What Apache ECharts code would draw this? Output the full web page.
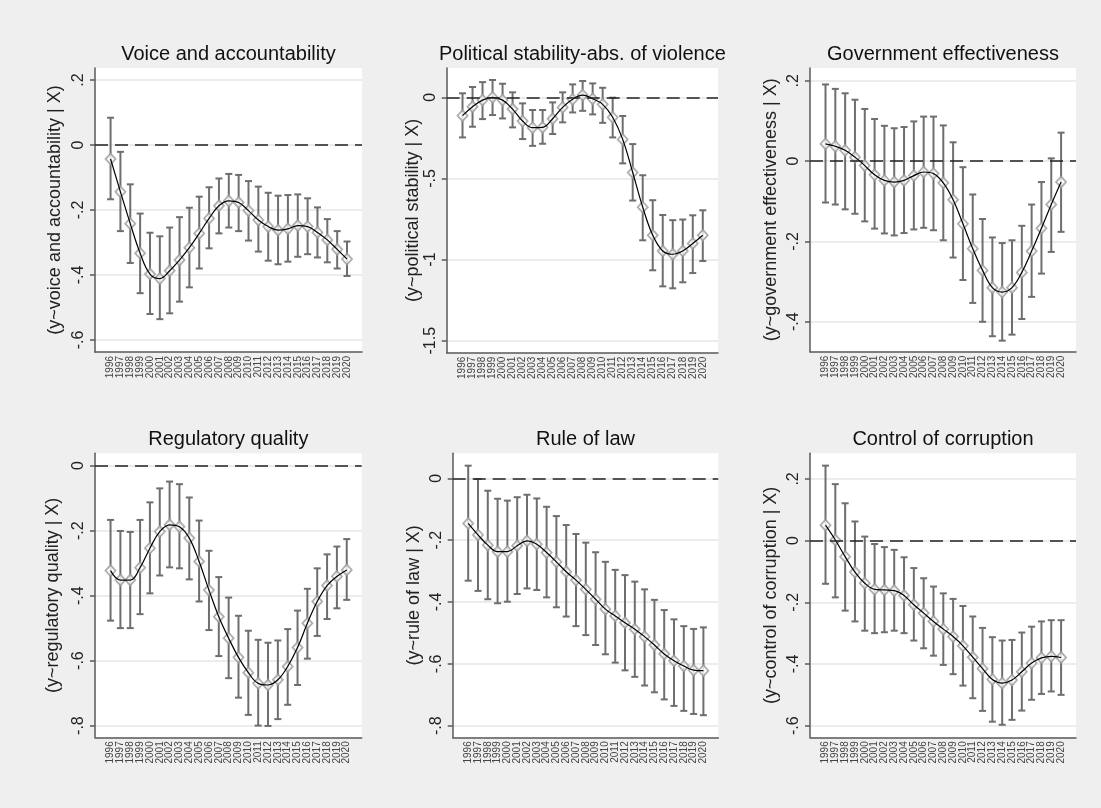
<!DOCTYPE html>
<html><head><meta charset="utf-8">
<script src="https://cdn.jsdelivr.net/npm/echarts@6/dist/echarts.min.js"></script>
<style>html,body{margin:0;padding:0;background:#efefef}#c{width:1101px;height:808px}</style>
</head><body><div id="c"></div>
<script>
// ---------- data ----------
const years = [1996,1997,1998,1999,2000,2001,2002,2003,2004,2005,2006,2007,2008,2009,2010,2011,2012,2013,2014,2015,2016,2017,2018,2019,2020];

const titles = ['Voice and accountability','Political stability-abs. of violence','Government effectiveness','Regulatory quality','Rule of law','Control of corruption'];
const yNames = ['(y~voice and accountability | X)','(y~political stability | X)','(y~government effectiveness | X)','(y~regulatory quality | X)','(y~rule of law | X)','(y~control of corruption | X)'];

const voiceEst = [-0.043,-0.144,-0.242,-0.333,-0.397,-0.411,-0.387,-0.354,-0.316,-0.272,-0.226,-0.187,-0.172,-0.177,-0.202,-0.231,-0.251,-0.262,-0.258,-0.248,-0.251,-0.269,-0.292,-0.321,-0.351];
const voiceHi  = [0.084,-0.021,-0.121,-0.211,-0.270,-0.281,-0.254,-0.222,-0.193,-0.159,-0.130,-0.103,-0.089,-0.092,-0.111,-0.128,-0.147,-0.156,-0.154,-0.152,-0.164,-0.192,-0.228,-0.265,-0.297];
const voiceLo  = [-0.167,-0.265,-0.363,-0.456,-0.520,-0.536,-0.518,-0.482,-0.438,-0.380,-0.318,-0.272,-0.254,-0.265,-0.294,-0.328,-0.356,-0.367,-0.359,-0.344,-0.336,-0.346,-0.361,-0.380,-0.403];

const polEst = [-0.113,-0.058,-0.017,0.0,-0.017,-0.072,-0.146,-0.187,-0.185,-0.132,-0.062,-0.012,0.014,-0.009,-0.043,-0.123,-0.259,-0.463,-0.677,-0.850,-0.947,-0.967,-0.947,-0.901,-0.850];
const polHi  = [0.025,0.064,0.094,0.107,0.084,0.031,-0.037,-0.078,-0.078,-0.031,0.031,0.080,0.101,0.086,0.059,-0.002,-0.115,-0.288,-0.480,-0.634,-0.725,-0.757,-0.753,-0.727,-0.696];
const polLo  = [-0.247,-0.181,-0.134,-0.109,-0.130,-0.185,-0.257,-0.299,-0.286,-0.226,-0.154,-0.093,-0.083,-0.105,-0.157,-0.247,-0.407,-0.636,-0.881,-1.066,-1.165,-1.177,-1.140,-1.083,-1.009];

const govEst = [0.043,0.037,0.027,0.010,-0.011,-0.034,-0.048,-0.052,-0.048,-0.036,-0.027,-0.031,-0.054,-0.096,-0.156,-0.218,-0.272,-0.315,-0.326,-0.315,-0.277,-0.224,-0.167,-0.108,-0.052];
const govHi  = [0.191,0.180,0.169,0.153,0.130,0.105,0.088,0.082,0.085,0.099,0.111,0.111,0.089,0.047,-0.015,-0.083,-0.144,-0.190,-0.204,-0.197,-0.161,-0.108,-0.052,0.007,0.071];
const govLo  = [-0.103,-0.108,-0.120,-0.131,-0.150,-0.168,-0.180,-0.185,-0.179,-0.170,-0.166,-0.172,-0.197,-0.240,-0.296,-0.353,-0.400,-0.436,-0.447,-0.432,-0.393,-0.338,-0.280,-0.226,-0.176];

const regEst = [-0.323,-0.352,-0.352,-0.314,-0.254,-0.203,-0.182,-0.188,-0.223,-0.295,-0.383,-0.465,-0.531,-0.590,-0.637,-0.670,-0.675,-0.659,-0.618,-0.560,-0.485,-0.418,-0.369,-0.341,-0.321];
const regHi  = [-0.167,-0.201,-0.204,-0.167,-0.113,-0.070,-0.049,-0.057,-0.098,-0.169,-0.262,-0.343,-0.406,-0.462,-0.508,-0.536,-0.545,-0.538,-0.503,-0.446,-0.379,-0.316,-0.273,-0.249,-0.226];
const regLo  = [-0.477,-0.500,-0.500,-0.457,-0.393,-0.338,-0.313,-0.316,-0.350,-0.418,-0.506,-0.586,-0.654,-0.714,-0.767,-0.800,-0.801,-0.780,-0.736,-0.675,-0.594,-0.524,-0.472,-0.439,-0.413];

const lawEst = [-0.146,-0.183,-0.216,-0.237,-0.237,-0.218,-0.202,-0.213,-0.240,-0.270,-0.302,-0.329,-0.359,-0.391,-0.423,-0.445,-0.467,-0.488,-0.512,-0.539,-0.568,-0.590,-0.607,-0.620,-0.622];
const lawHi  = [0.041,-0.002,-0.040,-0.066,-0.072,-0.061,-0.053,-0.065,-0.092,-0.122,-0.151,-0.180,-0.208,-0.239,-0.270,-0.296,-0.313,-0.334,-0.359,-0.393,-0.426,-0.456,-0.478,-0.487,-0.482];
const lawLo  = [-0.331,-0.364,-0.391,-0.404,-0.399,-0.374,-0.356,-0.361,-0.385,-0.417,-0.447,-0.478,-0.507,-0.539,-0.569,-0.596,-0.621,-0.642,-0.670,-0.692,-0.715,-0.736,-0.752,-0.762,-0.766];

const corEst = [0.050,0.002,-0.052,-0.102,-0.138,-0.158,-0.160,-0.162,-0.178,-0.208,-0.235,-0.262,-0.287,-0.311,-0.341,-0.378,-0.415,-0.450,-0.462,-0.452,-0.425,-0.397,-0.380,-0.375,-0.379];
const corHi  = [0.243,0.183,0.121,0.062,0.013,-0.011,-0.021,-0.030,-0.054,-0.089,-0.122,-0.149,-0.171,-0.189,-0.212,-0.246,-0.283,-0.313,-0.324,-0.322,-0.298,-0.279,-0.262,-0.258,-0.258];
const corLo  = [-0.140,-0.184,-0.227,-0.262,-0.292,-0.300,-0.297,-0.292,-0.300,-0.324,-0.349,-0.373,-0.403,-0.433,-0.470,-0.511,-0.552,-0.587,-0.597,-0.581,-0.551,-0.516,-0.497,-0.489,-0.500];

const voiceTicks = [-0.6,-0.4,-0.2,0,0.2];
const polTicks   = [-1.5,-1,-0.5,0];
const govTicks   = [-0.4,-0.2,0,0.2];
const regTicks   = [-0.8,-0.6,-0.4,-0.2,0];
const lawTicks   = [-0.8,-0.6,-0.4,-0.2,0];
const corTicks   = [-0.6,-0.4,-0.2,0,0.2];

// ---------- layout (pixels / axis extents) ----------
const panels = [
  {est:voiceEst, lo:voiceLo, hi:voiceHi, ticks:voiceTicks, left:95,    top:68,    width:267,   height:284,   ymin:-0.637, ymax:0.237, gap:31},
  {est:polEst,   lo:polLo,   hi:polHi,   ticks:polTicks,   left:446.7, top:68,    width:271.3, height:284.7, ymin:-1.574, ymax:0.181, gap:24},
  {est:govEst,   lo:govLo,   hi:govHi,   ticks:govTicks,   left:810,   top:68,    width:266,   height:283.7, ymin:-0.4745,ymax:0.232, gap:30},
  {est:regEst,   lo:regLo,   hi:regHi,   ticks:regTicks,   left:95,    top:453.3, width:266.7, height:284,   ymin:-0.836, ymax:0.038, gap:33},
  {est:lawEst,   lo:lawLo,   hi:lawHi,   ticks:lawTicks,   left:452.7, top:453.3, width:265.6, height:284,   ymin:-0.8375,ymax:0.081, gap:30},
  {est:corEst,   lo:corLo,   hi:corHi,   ticks:corTicks,   left:810,   top:453.3, width:266,   height:284,   ymin:-0.6376,ymax:0.283, gap:30}
];
const XMIN = 1994.42, XMAX = 2021.52;
const FONT = 'Liberation Sans, Arial, Helvetica, sans-serif';
const axisCol = '#5a5a5a';

function fmtY(v){
  let s = String(Math.round(v*100)/100);
  return s.replace(/^(-?)0\./,'$1.');
}

const grid=[], xAxis=[], yAxis=[], series=[], title=[];
panels.forEach((p,i)=>{
  grid.push({left:p.left, top:p.top, width:p.width, height:p.height, show:true, backgroundColor:'#ffffff', borderWidth:0, containLabel:false, outerBoundsMode:'none'});
  title.push({text:titles[i], left:p.left+p.width/2, top:(i<3?44:429), textAlign:'center', padding:0,
    textStyle:{fontSize:20, fontWeight:'normal', color:'#111', fontFamily:FONT}});
  xAxis.push({type:'value', gridIndex:i, min:XMIN, max:XMAX,
    axisLine:{show:true, onZero:false, lineStyle:{color:axisCol, width:1.5}},
    axisTick:{show:false, customValues:years},
    splitLine:{show:false},
    axisLabel:{customValues:years, rotate:90, fontSize:10, margin:4, color:'#444', fontFamily:FONT,
      showMinLabel:true, showMaxLabel:true, hideOverlap:false, formatter:v=>String(v)}});
  yAxis.push({type:'value', gridIndex:i, min:p.ymin, max:p.ymax,
    name:yNames[i], nameLocation:'middle', nameGap:p.gap, nameRotate:90,
    nameTextStyle:{fontSize:18, color:'#222', fontFamily:FONT},
    axisLine:{show:true, onZero:false, lineStyle:{color:axisCol, width:1.5}},
    axisTick:{show:true, length:5, customValues:p.ticks, lineStyle:{color:axisCol, width:1.5}},
    axisLabel:{customValues:p.ticks, rotate:90, fontSize:16, margin:8, color:'#222', fontFamily:FONT,
      showMinLabel:true, showMaxLabel:true, formatter:fmtY},
    splitLine:{show:true, lineStyle:{color:'#e6e6e6', width:1.5}}});
  const bars = years.map((y,k)=>[y, p.lo[k], p.hi[k]]);
  const pts = years.map((y,k)=>[y, p.est[k]]);
  series.push({type:'custom', xAxisIndex:i, yAxisIndex:i, z:2, data:bars, encode:{x:0, y:[1,2]},
    renderItem:function(params, api){
      const x = api.value(0);
      const a = api.coord([x, api.value(2)]);
      const b = api.coord([x, api.value(1)]);
      const w = 3.5;
      const st = {stroke:'#6e6e6e', lineWidth:2};
      return {type:'group', children:[
        {type:'line', shape:{x1:a[0], y1:a[1], x2:b[0], y2:b[1]}, style:st},
        {type:'line', shape:{x1:a[0]-w, y1:a[1], x2:a[0]+w, y2:a[1]}, style:st},
        {type:'line', shape:{x1:b[0]-w, y1:b[1], x2:b[0]+w, y2:b[1]}, style:st}
      ]};
    },
    markLine:{silent:true, symbol:'none', label:{show:false},
      lineStyle:{color:'#222', type:[13,7], width:1.5}, data:[{yAxis:0}]}
  });
  series.push({type:'scatter', xAxisIndex:i, yAxisIndex:i, z:3, data:pts, symbol:'diamond', symbolSize:[10,11],
    itemStyle:{color:'#ffffff', borderColor:'#9a9a9a', borderWidth:1.8}});
  series.push({type:'line', xAxisIndex:i, yAxisIndex:i, z:4, data:pts, smooth:0.4, showSymbol:false,
    lineStyle:{color:'#000', width:1.2}});
});

const chart = echarts.init(document.getElementById('c'), null, {renderer:'canvas', width:1101, height:808});
chart.setOption({backgroundColor:'#efefef', animation:false, title, grid, xAxis, yAxis, series});
</script></body></html>
